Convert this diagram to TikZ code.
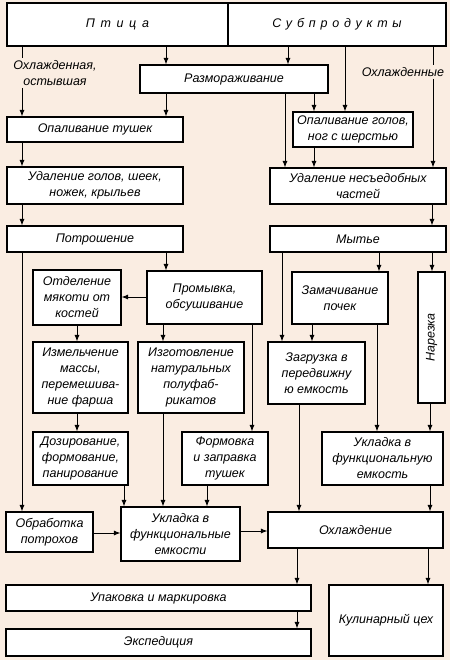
\documentclass[tikz,border=0pt]{standalone}
\usepackage{fontspec}
\setmainfont{Liberation Sans}
\usepackage{graphicx}
\usetikzlibrary{arrows.meta}

\definecolor{fon}{RGB}{250,237,226}

\tikzset{
  blok/.style={draw, line width=1.1pt, fill=white, align=center, inner sep=1pt},
  podpis/.style={align=center, inner sep=2pt},
  strelka/.style={line width=0.9pt, -{Latex[length=6.5pt,width=5pt]}},
  liniya/.style={line width=0.9pt},
}

\begin{document}
\begin{tikzpicture}[x=1pt, y=-1pt, font=\itshape\fontsize{12.5}{16}\selectfont]

      % фон
      \fill[fon] (0,0) rectangle (450,660);
      \useasboundingbox (0,0) rectangle (450,660);

      % сырье
      \node[blok, minimum width=221pt, minimum height=43pt] (ptica) at (117.5,24.5) {{\addfontfeatures{LetterSpace=45}Птица}};
      \node[blok, minimum width=218pt, minimum height=43pt] (subpr) at (337,24.5) {{\addfontfeatures{LetterSpace=38}Субпродукты}};
      \node[podpis] (ohl1) at (55,73) {Охлажденная,\\остывшая};
      \node[podpis] (ohl2) at (403,72) {Охлажденные};
      \node[blok, minimum width=188pt, minimum height=28pt] (razm) at (234,79) {Размораживание};

      % левая ветвь (птица)
      \node[blok, minimum width=176pt, minimum height=25pt] (opalt) at (95,129.5) {Опаливание тушек};
      \node[blok, minimum width=176pt, minimum height=37pt] (udalg) at (95,185.5) {Удаление голов, шеек,\\ножек, крыльев};
      \node[blok, minimum width=176pt, minimum height=26pt] (potr) at (95,239) {Потрошение};
      \node[blok, minimum width=88pt, minimum height=55pt] (otdel) at (77,297.5) {Отделение\\мякоти от\\костей};
      \node[blok, minimum width=115pt, minimum height=53pt] (promyv) at (204.5,297.5) {Промывка,\\обсушивание};
      \node[blok, minimum width=95pt, minimum height=71pt] (izmel) at (80.5,377.5) {Измельчение\\массы,\\перемешива-\\ние фарша};
      \node[blok, minimum width=106pt, minimum height=71pt] (izgot) at (191,377.5) {Изготовление\\натуральных\\полуфаб-\\рикатов};
      \node[blok, minimum width=95pt, minimum height=53pt] (doz) at (80.5,458.5) {Дозирование,\\формование,\\панирование};
      \node[blok, minimum width=86pt, minimum height=53pt] (formov) at (225,458.5) {Формовка\\и заправка\\тушек};
      \node[blok, minimum width=87pt, minimum height=40pt] (obrab) at (49.5,532) {Обработка\\потрохов};
      \node[blok, minimum width=119pt, minimum height=54pt] (uklfe) at (180.5,534) {Укладка в\\функциональные\\емкости};

      % правая ветвь (субпродукты)
      \node[blok, minimum width=120pt, minimum height=35pt] (opalg) at (353,129.5) {Опаливание голов,\\ног с шерстью};
      \node[blok, minimum width=176pt, minimum height=36pt] (udaln) at (358,186) {Удаление несъедобных\\частей};
      \node[blok, minimum width=176pt, minimum height=26pt] (myt) at (358,239) {Мытье};
      \node[blok, minimum width=96pt, minimum height=52pt] (zamach) at (340,298) {Замачивание\\почек};
      \node[blok, minimum width=27pt, minimum height=131pt] (narez) at (431.5,337.5) {\rotatebox{90}{Нарезка}};
      \node[blok, minimum width=97pt, minimum height=62pt] (zagr) at (316.5,373) {Загрузка в\\передвижну\\ю емкость};
      \node[blok, minimum width=121pt, minimum height=53pt] (uklf) at (382.5,458.5) {Укладка в\\функциональную\\емкость};
      \node[blok, minimum width=175pt, minimum height=36pt] (ohl) at (355.5,530) {Охлаждение};

      % выход
      \node[blok, minimum width=305pt, minimum height=26pt] (upak) at (158.5,598) {Упаковка и маркировка};
      \node[blok, minimum width=305pt, minimum height=27pt] (eksp) at (158.5,642.5) {Экспедиция};
      \node[blok, minimum width=114pt, minimum height=71pt] (kulin) at (386,620.5) {Кулинарный цех};

      % связи верхней части
      \draw[strelka] (ptica.south -| 166,0) -- (razm.north -| 166,0);
      \draw[strelka] (subpr.south -| 288,0) -- (razm.north -| 288,0);
      \draw[liniya] (ptica.south -| 22,0) -- (ohl1.north -| 22,0);
      \draw[strelka] (ohl1.south -| 22,0) -- (opalt.north -| 22,0);
      \draw[strelka] (razm.south -| 166,0) -- (opalt.north -| 166,0);
      \draw[strelka] (razm.south -| 285,0) -- (udaln.north -| 285,0);
      \draw[strelka] (razm.south -| 314,0) -- (opalg.north -| 314,0);
      \draw[strelka] (subpr.south -| 345,0) -- (opalg.north -| 345,0);
      \draw[liniya] (subpr.south -| 433,0) -- (ohl2.north -| 433,0);
      \draw[strelka] (ohl2.south -| 433,0) -- (udaln.north -| 433,0);
      \draw[strelka] (opalg.south -| 314,0) -- (udaln.north -| 314,0);
      \draw[strelka] (opalt.south -| 22,0) -- (udalg.north -| 22,0);
      \draw[strelka] (udalg.south -| 22,0) -- (potr.north -| 22,0);
      \draw[strelka] (udaln.south -| 432,0) -- (myt.north -| 432,0);

      % связи птицы
      \draw[strelka] (potr.south -| 22,0) -- (obrab.north -| 22,0);
      \draw[strelka] (potr.south -| 166,0) -- (promyv.north -| 166,0);
      \draw[strelka] (promyv.west |- 0,297) -- (otdel.east |- 0,297);
      \draw[strelka] (otdel.south -| 77,0) -- (izmel.north -| 77,0);
      \draw[strelka] (izmel.south -| 77,0) -- (doz.north -| 77,0);
      \draw[strelka] (promyv.south -| 163,0) -- (izgot.north -| 163,0);
      \draw[strelka] (promyv.south -| 252,0) -- (formov.north -| 252,0);
      \draw[strelka] (doz.south -| 124,0) -- (uklfe.north -| 124,0);
      \draw[strelka] (izgot.south -| 163,0) -- (uklfe.north -| 163,0);
      \draw[strelka] (formov.south -| 207,0) -- (uklfe.north -| 207,0);
      \draw[strelka] (obrab.east |- 0,533) -- (uklfe.west |- 0,533);
      \draw[strelka] (uklfe.east |- 0,531) -- (ohl.west |- 0,531);

      % связи субпродуктов
      \draw[strelka] (myt.south -| 282,0) -- (zagr.north -| 282,0);
      \draw[strelka] (myt.south -| 379,0) -- (zamach.north -| 379,0);
      \draw[strelka] (myt.south -| 432,0) -- (narez.north -| 432,0);
      \draw[strelka] (zamach.south -| 312,0) -- (zagr.north -| 312,0);
      \draw[strelka] (zamach.south -| 377,0) -- (uklf.north -| 377,0);
      \draw[strelka] (narez.south -| 430,0) -- (uklf.north -| 430,0);
      \draw[strelka] (zagr.south -| 299,0) -- (ohl.north -| 299,0);
      \draw[strelka] (uklf.south -| 430,0) -- (ohl.north -| 430,0);

      % выход
      \draw[strelka] (ohl.south -| 297,0) -- (upak.north -| 297,0);
      \draw[strelka] (upak.south -| 297,0) -- (eksp.north -| 297,0);
      \draw[strelka] (ohl.south -| 428,0) -- (kulin.north -| 428,0);

    \end{tikzpicture}
\end{document}
